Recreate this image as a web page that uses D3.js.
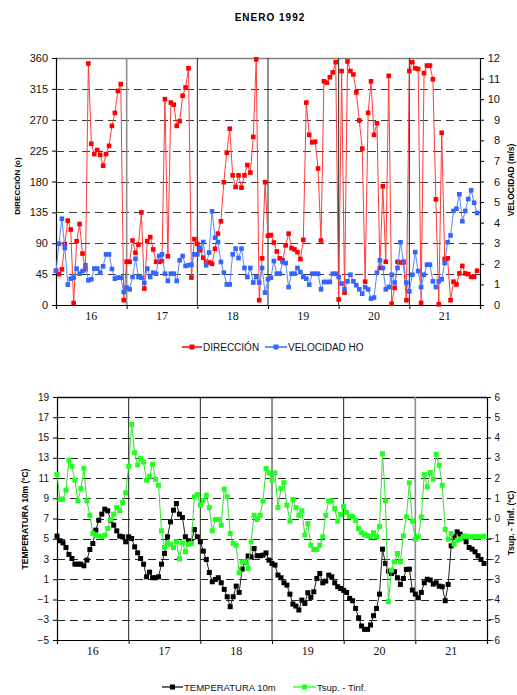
<!DOCTYPE html>
<html><head><meta charset="utf-8">
<script src="https://cdn.jsdelivr.net/npm/d3@7"></script>
<style>body{margin:0;background:#fff}svg{display:block}</style>
</head><body>
<script>
// Hourly records, 16–21 January 1992 (24 values per day)
const days = ["16", "17", "18", "19", "20", "21"];

// Wind direction (degrees)
const direccion = [
  50,45,52,89,123,110,3,93,118,75,52,352,235,220,226,219,203,220,232,261,280,312,322,7,
  63,63,94,76,88,135,24,93,99,81,63,63,64,300,71,295,292,261,268,305,317,345,40,96,
  89,80,69,63,62,60,82,104,122,179,222,257,189,172,189,171,189,204,193,245,358,7,68,179,
  101,102,91,78,68,65,87,104,83,81,77,67,95,295,248,237,238,199,94,326,324,332,339,354,
  8,341,18,355,341,336,310,269,228,34,280,326,248,265,54,173,63,334,2,25,63,62,62,7,
  341,354,345,344,3,338,349,349,329,154,1,251,67,68,7,34,30,46,57,46,45,41,41,50
];

// Wind speed (m/s)
const velocidad = [
  1.65,2.98,4.19,2.77,0.99,1.28,1.33,1.77,1.52,1.65,1.93,1.2,1.25,1.77,1.77,1.57,1.88,2.46,2.46,1.75,1.28,1.33,1.33,0.63,
  0.85,0.76,1.36,2.25,1.36,1.33,1.07,1.77,1.36,1.57,1.52,2.38,2.46,1.52,1.17,1.52,1.52,1.17,2.17,2.38,1.9,1.93,1.96,2.46,
  2.46,2.78,3.06,1.93,2.55,4.55,3.27,3.06,2.09,1.57,1.0,1.0,2.46,2.74,2.28,2.74,1.8,1.36,1.8,1.09,1.36,1.09,1.8,0.6,
  1.25,1.33,2.14,1.52,1.52,2.09,2.04,0.87,1.52,1.52,1.8,1.6,1.36,1.28,0.99,1.52,1.52,1.52,0.76,1.12,1.12,1.12,1.52,1.52,
  1.36,1.04,0.76,1.15,1.47,1.15,0.96,0.76,0.55,0.87,0.76,0.31,0.36,1.57,2.17,1.8,0.76,0.87,1.47,1.09,1.8,3.05,2.11,1.09,
  0.66,1.47,2.57,1.65,0.87,1.47,1.96,1.96,1.15,0.87,1.15,1.25,2.04,3.05,3.38,4.57,4.68,5.38,4.07,4.57,5.15,5.57,4.97,4.47
];

// Air temperature at 10 m (ºC)
const temperatura = [
  5.26,4.8,4.6,4.14,3.45,3.05,2.49,2.49,2.49,2.33,2.89,3.94,4.53,5.85,6.83,7.43,7.92,7.76,6.83,6.34,5.78,5.26,5.19,4.7,
  5.19,5.03,4.2,3.61,3.05,2.49,1.24,1.7,1.15,1.15,1.24,2.49,3.55,5.19,6.67,7.82,8.48,7.43,7.1,5.19,4.8,4.7,5.91,5.19,
  4.7,3.78,2.95,1.67,0.75,0.98,1.15,0.65,0.0,-0.73,-1.71,-0.73,0.32,-0.3,2.0,2.7,3.3,3.2,4.04,3.32,3.32,3.38,3.6,2.89,
  2.56,2.4,1.41,1.15,0.65,0.42,-0.47,-1.45,-1.65,-2.04,-1.06,-1.39,-0.33,-0.79,-0.24,1.08,1.57,0.65,0.82,1.41,1.24,0.65,0.26,0.09,
  -0.1,-0.3,-0.89,-1.12,-1.88,-2.8,-3.62,-3.95,-3.95,-3.52,-2.6,-1.88,-0.47,3.97,2.56,1.8,1.57,1.74,1.15,0.49,1.08,1.97,2.0,-0.07,
  -0.47,-0.83,-0.3,0.65,1.0,0.92,0.52,0.65,0.32,0.26,-1.12,0.49,4.3,5.19,5.68,5.45,5.19,4.7,4.14,3.97,3.71,3.32,2.95,2.56
];

// Surface minus lower temperature (ºC)
const tsupTinf = [
  2.17,0.95,0.95,1.4,2.88,2.58,1.89,0.87,1.48,2.48,0.87,0.16,-0.74,-0.82,-0.86,-0.9,-0.82,-0.49,-0.05,0.21,0.54,0.38,0.79,1.27,
  2.58,4.65,3.25,2.65,2.96,2.79,1.89,2.09,2.68,1.94,1.64,-0.61,-1.43,-1.2,-1.27,-1.43,-1.15,-2.0,-1.2,-1.64,-1.27,-1.23,1.07,1.18,
  0.66,0.9,1.15,0.54,-0.61,-0.05,-0.05,-0.33,1.45,1.07,-0.74,-1.23,-1.32,-2.68,-2.14,-2.14,-2.47,-1.15,0.16,-0.05,0.16,0.87,2.47,2.25,
  1.89,2.25,0.54,1.48,1.77,0.66,-0.13,0.94,0.54,0.16,0.38,-0.82,-0.25,-1.32,-1.53,-1.53,-1.32,-0.9,0.16,0.87,0.87,0.49,-0.13,0.2,
  0.6,0.3,0.1,0.1,-0.1,-0.5,-0.7,-0.8,-0.85,-0.9,-0.7,-0.9,-0.4,3.2,0.87,-4.1,-2.55,-2.14,-1.73,-2.14,-0.86,0.08,1.76,-0.13,
  -1.02,-0.9,0.08,2.17,1.56,2.27,1.94,3.17,2.63,1.64,-0.54,-1.02,-0.74,-1.27,-1.07,-1.02,-0.9,-0.86,-0.9,-0.9,-0.9,-0.9,-0.9,-0.87
];

const dirTicks = [0, 45, 90, 135, 180, 225, 270, 315, 360];
const velTicks = [0,1,2,3,4,5,6,7,8,9,10,11,12];
const tempTicks = [-5,-3,-1,1,3,5,7,9,11,13,15,17,19];
const diffTicks = [-6,-5,-4,-3,-2,-1,0,1,2,3,4,5,6];

const SANS = "'Liberation Sans', Arial, Helvetica, sans-serif";
const SERIF = "'Liberation Serif', 'Times New Roman', serif";

const svg = d3.select("body").append("svg").attr("width", 517).attr("height", 695);

svg.append("text").attr("x", 270).attr("y", 21).attr("text-anchor", "middle")
  .attr("font-family", SANS).attr("font-size", 10).attr("font-weight", "bold")
  .attr("letter-spacing", 1).text("ENERO 1992");

function panel(o) {
  const g = svg.append("g");
  const nHours = days.length * 24;
  const x = d3.scaleLinear().domain([0, nHours]).range([o.left, o.right]);
  const yL = d3.scaleLinear().domain(o.leftDomain).range([o.bottom, o.top]);
  const yR = d3.scaleLinear().domain(o.rightDomain).range([o.bottom, o.top]);

  // dashed horizontal gridlines
  g.selectAll(null).data(o.leftTicks.slice(1, -1)).join("line")
    .attr("x1", o.left).attr("x2", o.right)
    .attr("y1", d => Math.round(yL(d)) + 0.5).attr("y2", d => Math.round(yL(d)) + 0.5)
    .attr("stroke", o.gridColor).attr("stroke-width", 1).attr("stroke-dasharray", "8,5");
  // top border
  g.append("line").attr("x1", o.left).attr("x2", o.right)
    .attr("y1", o.top + 0.5).attr("y2", o.top + 0.5)
    .attr("stroke", o.topColor).attr("stroke-width", 1.3);

  // day separators
  const seps = d3.range(1, days.length).map(k => k * 24);
  g.selectAll(null).data(seps).join("line")
    .attr("x1", d => x(d)).attr("x2", d => x(d))
    .attr("y1", o.top).attr("y2", o.bottom)
    .attr("stroke", (d, i) => o.sepColors[i]).attr("stroke-width", (d, i) => o.sepColors[i] === "#8a8f8a" ? 1.6 : 1);

  // axes
  const ax = g.append("g").attr("transform", `translate(${o.left},0)`)
    .call(d3.axisLeft(yL).tickValues(o.leftTicks).tickSize(4).tickPadding(4).tickFormat(d3.format("d")));
  ax.selectAll("text").attr("font-family", SANS).attr("font-size", o.tickFont).attr("fill", "#111");
  const axR = g.append("g").attr("transform", `translate(${o.right},0)`)
    .call(d3.axisRight(yR).tickValues(o.rightTicks).tickSize(4).tickFormat(d3.format("d")));
  axR.selectAll("text").attr("font-family", SANS).attr("font-size", o.tickFont).attr("fill", "#111")
    .attr("text-anchor", "end").attr("x", 500 - o.right);
  const axB = g.append("g").attr("transform", `translate(0,${o.bottom})`)
    .call(d3.axisBottom(x).tickValues(d3.range(0, nHours + 1, 24)).tickSize(4).tickFormat(""));
  [ax, axR, axB].forEach(a => { a.select(".domain").attr("stroke", "#000").attr("stroke-width", 1.2); a.selectAll(".tick line").attr("stroke", "#000"); });

  g.selectAll(null).data(days).join("text")
    .attr("x", (d, i) => x(i * 24 + 12)).attr("y", o.labelY).attr("text-anchor", "middle")
    .attr("font-family", SERIF).attr("font-size", 12).attr("fill", "#111").text(d => d);

  // series: primary first, secondary on top
  function series(data, y, lineColor, markColor, size) {
    g.append("path").datum(data)
      .attr("d", d3.line().x((d, i) => x(i)).y(d => y(d)))
      .attr("fill", "none").attr("stroke", lineColor).attr("stroke-width", 1);
    g.append("g").selectAll("rect").data(data).join("rect")
      .attr("x", (d, i) => x(i) - size / 2).attr("y", d => y(d) - size / 2)
      .attr("width", size).attr("height", size).attr("fill", markColor);
  }
  series(o.primary, yL, o.colors[0], o.colors[1], o.mark);
  series(o.secondary, yR, o.colors[2], o.colors[3], o.mark);

  // axis titles
  const t1 = o.leftTitle, t2 = o.rightTitle;
  g.append("text").attr("transform", `translate(${t1.x},${t1.y}) rotate(-90)`)
    .attr("text-anchor", "middle").attr("font-family", SANS).attr("font-size", t1.size)
    .attr("font-weight", "bold").text(t1.text);
  g.append("text").attr("transform", `translate(${t2.x},${t2.y}) rotate(-90)`)
    .attr("text-anchor", "middle").attr("font-family", SANS).attr("font-size", t2.size)
    .attr("font-weight", "bold").text(t2.text);

  // legend
  const lg = svg.append("g");
  o.legend.forEach(item => {
    lg.append("line").attr("x1", item.x1).attr("x2", item.x2).attr("y1", o.legendY).attr("y2", o.legendY)
      .attr("stroke", item.line).attr("stroke-width", 1.5);
    lg.append("rect").attr("x", (item.x1 + item.x2) / 2 - 2.5).attr("y", o.legendY - 2.5)
      .attr("width", 5).attr("height", 5).attr("fill", item.mark);
    lg.append("text").attr("x", item.x2 + 1).attr("y", o.legendY + 3.5)
      .attr("font-family", SANS).attr("font-size", o.legendFont).attr("fill", "#111").text(item.text);
  });
}

panel({
  left: 56, right: 480, top: 58, bottom: 305,
  leftDomain: [0, 360], rightDomain: [0, 12],
  leftTicks: dirTicks, rightTicks: velTicks,
  gridColor: "#3a3a3a", topColor: "#808080",
  sepColors: ["#8a8f8a", "#1e2a1e", "#1e2a1e", "#1e2a1e", "#1e2a1e"],
  tickFont: 11, labelY: 320,
  primary: direccion, secondary: velocidad,
  colors: ["#ff3b3b", "#ff0000", "#5a86ff", "#3366ff"], mark: 4.6,
  leftTitle: { x: 19.5, y: 186, size: 8, text: "DIRECCIÓN (o)" },
  rightTitle: { x: 514, y: 180, size: 8.5, text: "VELOCIDAD (m/s)" },
  legendY: 347, legendFont: 10,
  legend: [
    { x1: 182, x2: 202, line: "#ff0000", mark: "#ff0000", text: "DIRECCIÓN" },
    { x1: 265, x2: 287, line: "#3366ff", mark: "#3366ff", text: "VELOCIDAD HO" }
  ]
});

panel({
  left: 57, right: 487, top: 397, bottom: 640,
  leftDomain: [-5, 19], rightDomain: [-6, 6],
  leftTicks: tempTicks, rightTicks: diffTicks,
  gridColor: "#1e2a1e", topColor: "#111",
  sepColors: ["#1e2a1e", "#1e2a1e", "#1e2a1e", "#1e2a1e", "#8a8f8a"],
  tickFont: 10, labelY: 655,
  primary: temperatura, secondary: tsupTinf,
  colors: ["#222", "#000", "#33e033", "#22ff22"], mark: 5,
  leftTitle: { x: 27.5, y: 519, size: 8.5, text: "TEMPERATURA 10m (ºC)" },
  rightTitle: { x: 513.5, y: 523, size: 8.5, text: "Tsup. - Tinf. (ºC)" },
  legendY: 687, legendFont: 9.5,
  legend: [
    { x1: 162, x2: 183, line: "#333", mark: "#000", text: "TEMPERATURA 10m" },
    { x1: 293, x2: 316, line: "#33ff33", mark: "#22ff22", text: "Tsup. - Tinf." }
  ]
});
</script>
</body></html>
